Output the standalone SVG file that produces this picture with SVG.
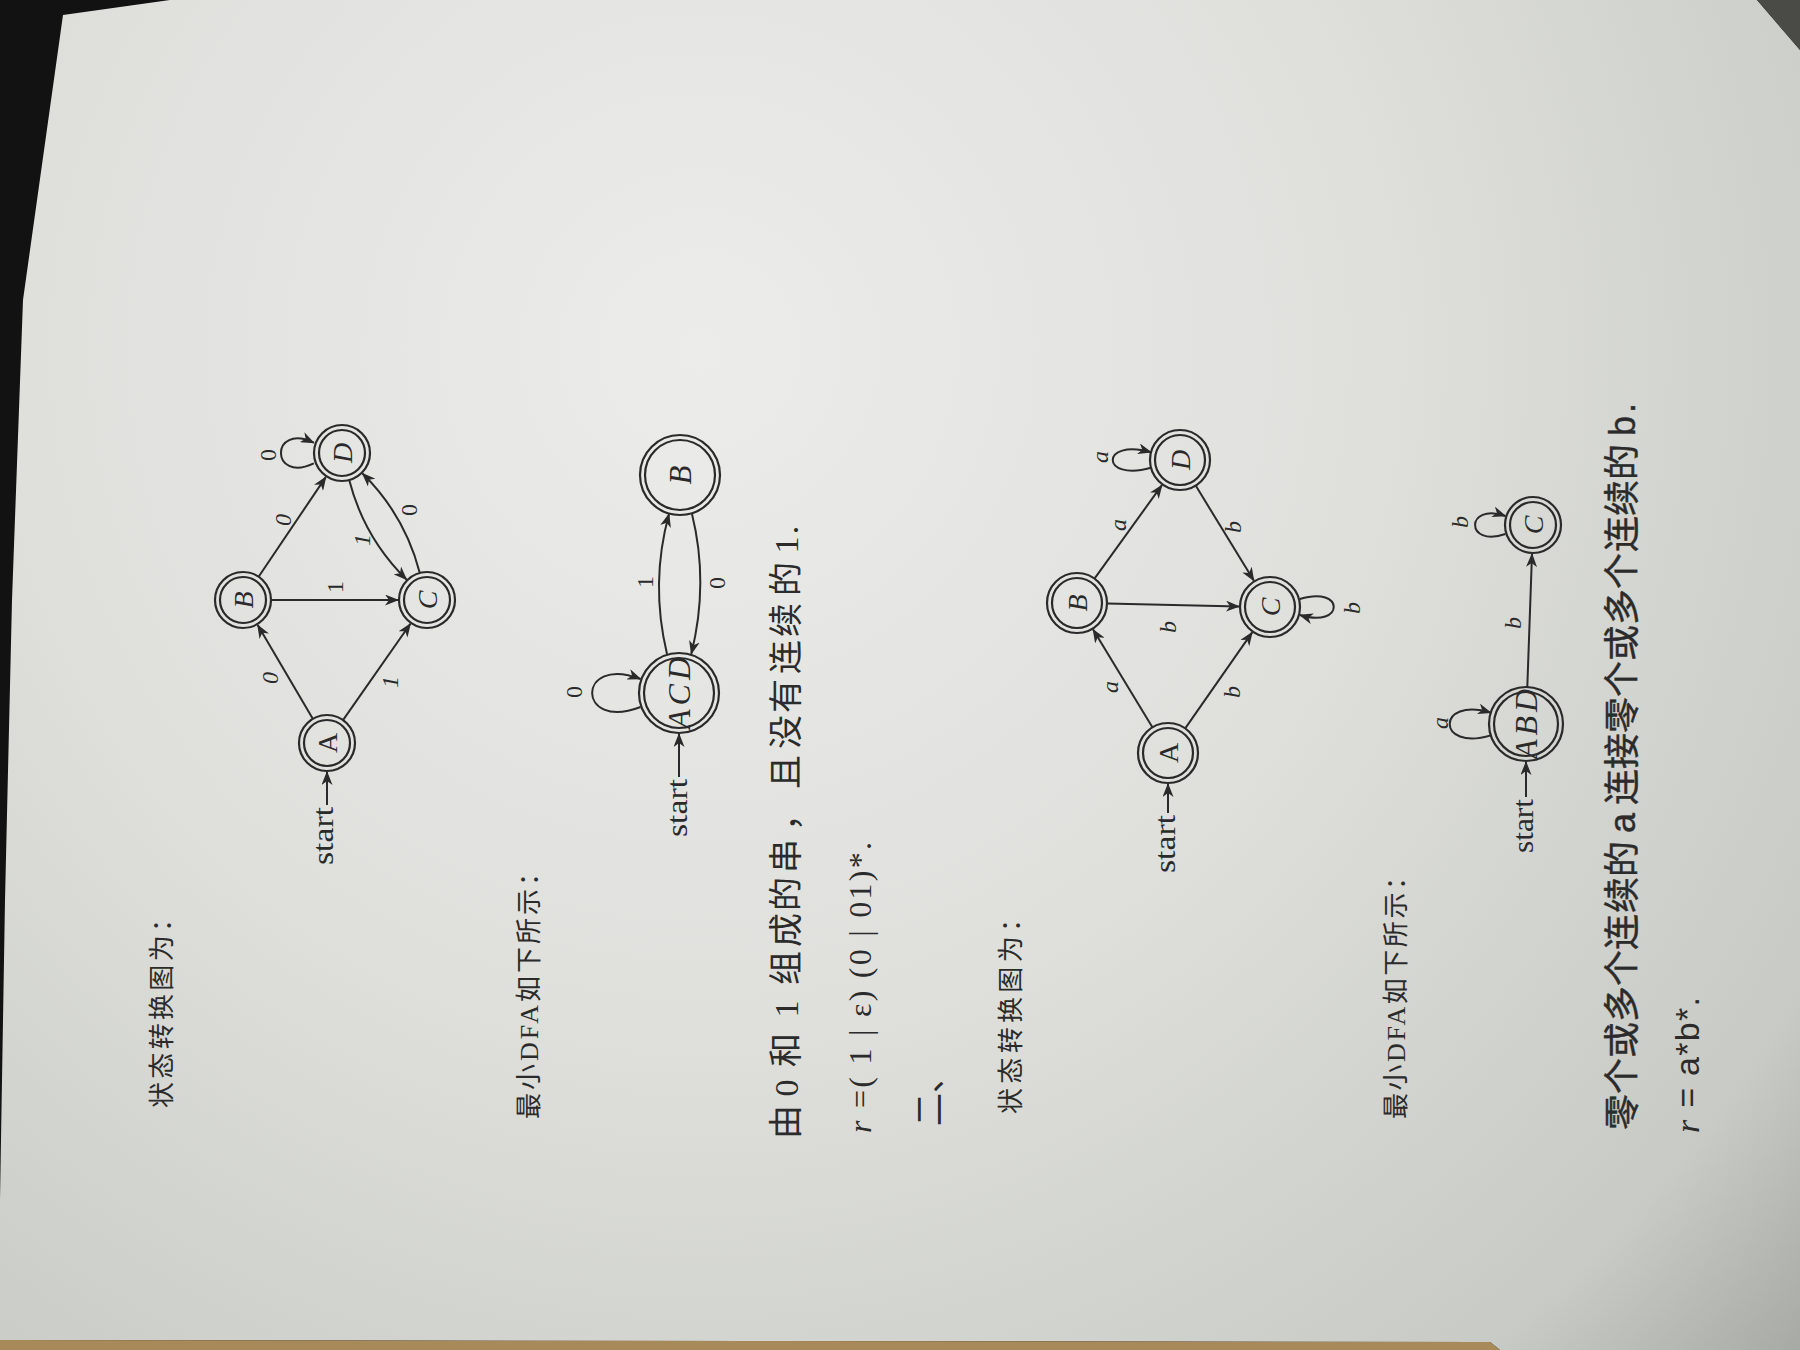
<svg xmlns="http://www.w3.org/2000/svg" width="1800" height="1350" viewBox="0 0 1800 1350">
<defs>
<radialGradient id="paper" cx="700" cy="350" r="1700" gradientUnits="userSpaceOnUse">
<stop offset="0" stop-color="#ececea"/>
<stop offset="0.4" stop-color="#dfe0dc"/>
<stop offset="0.75" stop-color="#c8cac5"/>
<stop offset="1" stop-color="#878984"/>
</radialGradient>
<marker id="arr" viewBox="0 0 14 11" refX="13" refY="5.5" markerWidth="14" markerHeight="11" markerUnits="userSpaceOnUse" orient="auto">
<path d="M0,0 L14,5.5 L0,11 L4,5.5 z" fill="#2a2a2a"/>
</marker>
<style>
.n{fill:none;stroke:#2a2a2a;stroke-width:2.2}
.e{fill:none;stroke:#2a2a2a;stroke-width:2;marker-end:url(#arr)}
.lbl{font-family:"Liberation Serif",serif;font-size:24px;fill:#2a2a2a;text-anchor:middle;dominant-baseline:central}
.it{font-style:italic}
.nt{font-family:"Liberation Serif",serif;font-size:28px;fill:#2a2a2a;text-anchor:middle;dominant-baseline:central}
.st{font-family:"Liberation Serif",serif;font-size:29px;fill:#2a2a2a;text-anchor:end}
.tx{font-family:"Liberation Serif","Noto Sans CJK SC",serif;font-size:26px;fill:#2b2b2b}
</style>
</defs>

<g id="background">
<rect width="1800" height="1350" fill="#121212"/>
<polygon points="63,15 170,0 1757,0 1800,50 1800,1350 1500,1350 1490,1342 0,1340 0,1200 5,900 12,600 23,300" fill="url(#paper)"/>
<polygon points="0,1340 1490,1342 1500,1350 0,1350" fill="#a8895a"/>
<polygon points="1757,0 1800,0 1800,50" fill="#4a4a46"/>
</g>

<g id="page-text">
<text class="tx" transform="translate(171,1108) rotate(-90)" textLength="202" lengthAdjust="spacing">状态转换图为：</text>
<text class="tx" transform="translate(538,1119) rotate(-90)" textLength="259" lengthAdjust="spacing">最小DFA如下所示：</text>
<text class="tx" style="font-size:34px;text-anchor:middle" transform="translate(798,1140) rotate(-90)" x="18 35 52 71 90 110 131 150 172 210 246 284 326 347 368 408 444 483 520 561 578 595 610">由 0 和 1 组成的串， 且没有连续的 1.</text>
<text class="tx" style="font-size:32px" transform="translate(871,1133) rotate(-90)" textLength="291" lengthAdjust="spacing"><tspan font-style="italic">r</tspan> =( 1 | ε) (0 | 01)*.</text>
<text class="tx" style="font-size:33px" transform="translate(941,1126) rotate(-90)">二、</text>
<text class="tx" transform="translate(1020,1114) rotate(-90)" textLength="208" lengthAdjust="spacing">状态转换图为：</text>
<text class="tx" transform="translate(1405,1119) rotate(-90)" textLength="255" lengthAdjust="spacing">最小DFA如下所示：</text>
<text class="tx" style="font-size:36px;text-anchor:middle;font-family:'Liberation Sans','Noto Sans CJK SC',sans-serif;stroke:#2b2b2b;stroke-width:0.4" transform="translate(1635,1140) rotate(-90)" x="28 64 100 136 172 208 245 281 299 317 335 353 389 425 461 497 533 569 606 642 678 696 714 732">零个或多个连续的 a 连接零个或多个连续的 b.</text>
<text class="tx" style="font-size:34px;font-family:'Liberation Sans','Noto Sans CJK SC',sans-serif" transform="translate(1699,1133) rotate(-90)" textLength="136" lengthAdjust="spacing"><tspan font-style="italic" font-family="Liberation Serif">r</tspan> = a*b*.</text>
</g>

<!-- Diagram 1 -->
<g id="d1-A"><circle class="n" cx="327" cy="743" r="28"/><circle class="n" cx="327" cy="743" r="23"/><text class="nt" transform="translate(327,743) rotate(-90)">A</text></g>
<g id="d1-B"><circle class="n" cx="243" cy="600" r="28"/><circle class="n" cx="243" cy="600" r="23"/><text class="nt it" transform="translate(243,600) rotate(-90)">B</text></g>
<g id="d1-C"><circle class="n" cx="427" cy="600" r="28"/><circle class="n" cx="427" cy="600" r="23"/><text class="nt it" transform="translate(427,600) rotate(-90)">C</text></g>
<g id="d1-D"><circle class="n" cx="342" cy="453" r="28"/><circle class="n" cx="342" cy="453" r="23"/><text class="nt it" transform="translate(342,453) rotate(-90)">D</text></g>

<!-- Diagram 2 -->
<g id="d2-ACD"><circle class="n" cx="679" cy="693" r="40"/><circle class="n" cx="679" cy="693" r="35"/><text class="nt it" style="font-size:32px" transform="translate(679,693) rotate(-90)" textLength="72" lengthAdjust="spacing">ACD</text></g>
<g id="d2-B"><circle class="n" cx="680" cy="475" r="40"/><circle class="n" cx="680" cy="475" r="35"/><text class="nt it" style="font-size:31px" transform="translate(680,475) rotate(-90)">B</text></g>

<!-- Diagram 3 -->
<g id="d3-A"><circle class="n" cx="1168" cy="753" r="30"/><circle class="n" cx="1168" cy="753" r="25"/><text class="nt" transform="translate(1168,753) rotate(-90)">A</text></g>
<g id="d3-B"><circle class="n" cx="1077" cy="603" r="30"/><circle class="n" cx="1077" cy="603" r="25"/><text class="nt it" transform="translate(1077,603) rotate(-90)">B</text></g>
<g id="d3-C"><circle class="n" cx="1270" cy="607" r="30"/><circle class="n" cx="1270" cy="607" r="25"/><text class="nt it" transform="translate(1270,607) rotate(-90)">C</text></g>
<g id="d3-D"><circle class="n" cx="1180" cy="460" r="30"/><circle class="n" cx="1180" cy="460" r="25"/><text class="nt it" transform="translate(1180,460) rotate(-90)">D</text></g>

<!-- Diagram 4 -->
<g id="d4-ABD"><circle class="n" cx="1526" cy="724" r="37"/><circle class="n" cx="1526" cy="724" r="32"/><text class="nt it" style="font-size:32px" transform="translate(1526,724) rotate(-90)" textLength="70" lengthAdjust="spacing">ABD</text></g>
<g id="d4-C"><circle class="n" cx="1533" cy="525" r="28"/><circle class="n" cx="1533" cy="525" r="23"/><text class="nt it" transform="translate(1533,525) rotate(-90)">C</text></g>

<g id="connectors">
<!-- d1 -->
<path class="e" d="M327,805 L327,772"/>
<path class="e" d="M312.8,718.8 L257.7,625"/>
<path class="e" d="M343,720.1 L410.4,623.8"/>
<path class="e" d="M271,600 L398,600"/>
<path class="e" d="M258.6,576.8 L325.8,477.1"/>
<path class="e" d="M349.2,480 Q364.1,537.8 406.5,579.5"/>
<path class="e" d="M419.8,573 Q404.9,515.2 362.5,473.5"/>
<path class="e" d="M313.8,463.3 C270,484 270,422 313.8,442.7"/>
<text class="st" transform="translate(333,807) rotate(-90)" textLength="58" lengthAdjust="spacingAndGlyphs">start</text>
<text class="lbl it" transform="translate(270,678) rotate(-90)">0</text>
<text class="lbl it" transform="translate(390,682) rotate(-90)">1</text>
<text class="lbl" transform="translate(335,587) rotate(-90)">1</text>
<text class="lbl it" transform="translate(283,520) rotate(-90)">0</text>
<text class="lbl it" transform="translate(362,540) rotate(-90)">1</text>
<text class="lbl" transform="translate(409,510) rotate(-90)">0</text>
<text class="lbl" transform="translate(268,455) rotate(-90)">0</text>
<!-- d2 -->
<path class="e" d="M679,777 L679,734"/>
<path class="e" d="M667,654 Q650,583 669,514"/>
<path class="e" d="M692,514 Q709,583 691.3,653.9"/>
<path class="e" d="M640.5,707 C576,732 576,654 640.5,679"/>
<text class="st" transform="translate(687,779) rotate(-90)" textLength="58" lengthAdjust="spacingAndGlyphs">start</text>
<text class="lbl" transform="translate(645,582) rotate(-90)">1</text>
<text class="lbl" transform="translate(717,583) rotate(-90)">0</text>
<text class="lbl" transform="translate(574,692) rotate(-90)">0</text>
<!-- d3 -->
<path class="e" d="M1168,813 L1168,784"/>
<path class="e" d="M1152.4,727.3 L1093.1,629.5"/>
<path class="e" d="M1185.2,728.4 L1252.2,632.4"/>
<path class="e" d="M1107,603.6 L1239,606.4"/>
<path class="e" d="M1094.5,578.7 L1161.9,485.2"/>
<path class="e" d="M1195.7,485.6 L1253.8,580.6"/>
<path class="e" d="M1151,467.8 C1100,482 1100,438 1151,452.2"/>
<path class="e" d="M1299.9,599 C1345,585 1345,629 1299.9,615"/>
<text class="st" transform="translate(1175,815) rotate(-90)" textLength="58" lengthAdjust="spacingAndGlyphs">start</text>
<text class="lbl it" transform="translate(1110,687) rotate(-90)">a</text>
<text class="lbl it" transform="translate(1232,692) rotate(-90)">b</text>
<text class="lbl it" transform="translate(1168,627) rotate(-90)">b</text>
<text class="lbl it" transform="translate(1118,525) rotate(-90)">a</text>
<text class="lbl it" transform="translate(1233,527) rotate(-90)">b</text>
<text class="lbl it" transform="translate(1100,457) rotate(-90)">a</text>
<text class="lbl it" transform="translate(1352,608) rotate(-90)">b</text>
<!-- d4 -->
<path class="e" d="M1526,797 L1526,762"/>
<path class="e" d="M1527.3,687 L1532,554"/>
<path class="e" d="M1490.8,735.4 C1436,752 1436,696 1490.8,712.6"/>
<path class="e" d="M1505.4,534 C1465,548 1465,502 1505.4,516"/>
<text class="st" transform="translate(1533,799) rotate(-90)" textLength="54" lengthAdjust="spacingAndGlyphs">start</text>
<text class="lbl it" transform="translate(1513,623) rotate(-90)">b</text>
<text class="lbl it" transform="translate(1440,723) rotate(-90)">a</text>
<text class="lbl it" transform="translate(1460,522) rotate(-90)">b</text>
</g>
</svg>
